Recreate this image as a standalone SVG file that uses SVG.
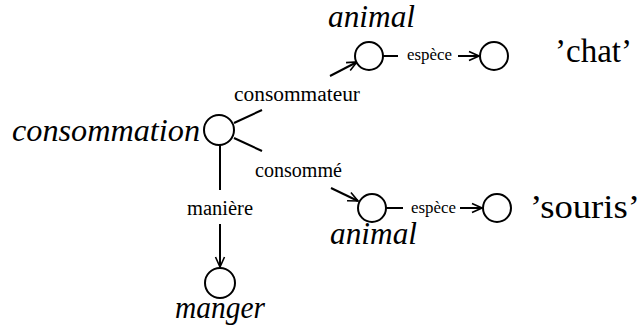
<svg xmlns="http://www.w3.org/2000/svg" width="643" height="334" viewBox="0 0 643 334">
<defs>
<marker id="arr" viewBox="0 0 12 12" refX="11" refY="6" markerWidth="12" markerHeight="12" markerUnits="userSpaceOnUse" orient="auto">
<path d="M1,1.5 L11,6 L1,10.5" fill="none" stroke="#000" stroke-width="1.6"/>
</marker>
<style>
.n{fill:#fff;stroke:#000;stroke-width:2}
.e{stroke:#000;stroke-width:2;fill:none}
text{font-family:"Liberation Serif","DejaVu Serif",serif;fill:#000}
.it{font-style:italic;font-size:31px}
.q{font-size:33px}
.l{font-size:20px}
.s{font-size:17px}
</style>
</defs>
<rect width="643" height="334" fill="#fff"/>
<g id="connectors">
<line class="e" x1="234" y1="123" x2="262" y2="110"/>
<line class="e" x1="234" y1="138" x2="262" y2="151"/>
<line class="e" x1="330" y1="76" x2="357" y2="62" marker-end="url(#arr)"/>
<line class="e" x1="331" y1="188" x2="358" y2="201" marker-end="url(#arr)"/>
<line class="e" x1="383" y1="56" x2="398" y2="56"/>
<line class="e" x1="458" y1="56" x2="479" y2="56" marker-end="url(#arr)"/>
<line class="e" x1="386" y1="208" x2="403" y2="208"/>
<line class="e" x1="460" y1="208" x2="482" y2="208" marker-end="url(#arr)"/>
<line class="e" x1="220" y1="145" x2="220" y2="190"/>
<line class="e" x1="220" y1="224" x2="220" y2="267" marker-end="url(#arr)"/>
<text class="l" x="234" y="101" textLength="126" lengthAdjust="spacingAndGlyphs">consommateur</text>
<text class="l" x="255" y="177" textLength="87" lengthAdjust="spacingAndGlyphs">consommé</text>
<text class="l" x="187" y="215" textLength="66" lengthAdjust="spacingAndGlyphs">manière</text>
<text class="s" x="407" y="60" textLength="45" lengthAdjust="spacingAndGlyphs">espèce</text>
<text class="s" x="411" y="213" textLength="45" lengthAdjust="spacingAndGlyphs">espèce</text>
</g>
<g id="consommation">
<circle class="n" cx="219" cy="130" r="15"/>
<text class="it" x="12" y="141" textLength="188" lengthAdjust="spacingAndGlyphs">consommation</text>
</g>
<g id="animal1">
<circle class="n" cx="369" cy="56" r="14"/>
<text class="it" x="328" y="27" textLength="87" lengthAdjust="spacingAndGlyphs">animal</text>
</g>
<g id="chat">
<circle class="n" cx="494" cy="56" r="14"/>
<text class="q" x="555" y="62" textLength="77" lengthAdjust="spacingAndGlyphs">’chat’</text>
</g>
<g id="animal2">
<circle class="n" cx="372" cy="208" r="14"/>
<text class="it" x="330" y="244" textLength="87" lengthAdjust="spacingAndGlyphs">animal</text>
</g>
<g id="souris">
<circle class="n" cx="497" cy="208" r="14"/>
<text class="q" x="530" y="218" textLength="110" lengthAdjust="spacingAndGlyphs">’souris’</text>
</g>
<g id="manger">
<circle class="n" cx="220" cy="283" r="15"/>
<text class="it" x="175" y="318" textLength="90" lengthAdjust="spacingAndGlyphs">manger</text>
</g>
</svg>
